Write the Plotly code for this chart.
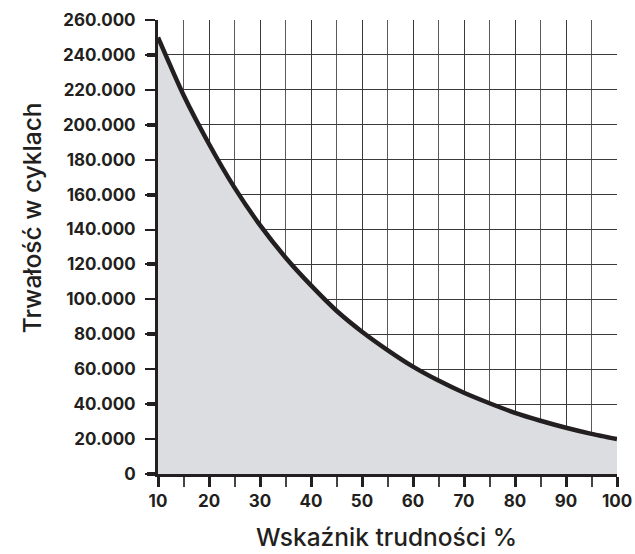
import plotly.graph_objects as go

# Wskaźnik trudności (%) i trwałość (cykle)
difficulty = [10, 15, 20, 25, 30, 35, 40, 45, 50, 55, 60, 65, 70, 75, 80, 85, 90, 95, 100]
cycles = [250000, 217000, 189000, 164000, 142500, 124000, 108000, 93500, 81500, 71000,
          61500, 53500, 46500, 40500, 35000, 30500, 26500, 23000, 20000]

y_major_ticks = [0, 40000, 80000, 120000, 160000, 200000, 240000]

x_title = "Wskaźnik trudności %"
y_title = "Trwałość w cyklach"

INK = "#231f20"
TICK_FONT = dict(family="Inter", size=17, color=INK, weight="bold")
TITLE_FONT = dict(family="Inter", size=24.5, color=INK, weight=500)

fig = go.Figure()

# ── krzywa + wypełnienie ─────────────────────────────
fig.add_trace(go.Scatter(
    x=difficulty, y=cycles,
    mode="lines",
    line=dict(color=INK, width=4.5, shape="spline", smoothing=0.6),
    fill="tozeroy",
    fillcolor="#dcdde0",
    hoverinfo="skip",
))

# niewidoczna seria tylko po to, by narysować grube znaczniki osi Y
fig.add_trace(go.Scatter(
    x=difficulty, y=cycles, yaxis="y2",
    mode="none", hoverinfo="skip",
))

fig.update_layout(
    width=635, height=554,
    margin=dict(l=158, r=18, t=20, b=80),
    plot_bgcolor="white", paper_bgcolor="white",
    showlegend=False,
    separators=",.",
    xaxis=dict(
        range=[10, 100], tick0=10, dtick=10,
        ticks="outside", ticklen=10, tickwidth=3, tickcolor=INK,
        showline=True, linewidth=3, linecolor=INK,
        showgrid=True, gridcolor="#3a3a3a", gridwidth=1.4,
        zeroline=False, automargin=False,
        tickfont=TICK_FONT,
        ticklabeloverflow="allow",
        minor=dict(dtick=5, tick0=10, ticks="outside", ticklen=10, tickwidth=1.5,
                   tickcolor="#444", showgrid=True, gridcolor="#5a5a5a", gridwidth=1.4),
    ),
    yaxis=dict(
        range=[0, 260000], tick0=0, dtick=20000, tickformat=",d",
        ticks="outside", ticklen=10, tickwidth=1.5, tickcolor=INK,
        showline=True, linewidth=3, linecolor=INK,
        showgrid=True, gridcolor="#3a3a3a", gridwidth=1.4,
        zeroline=False, automargin=False,
        tickfont=TICK_FONT,
        ticklabelstandoff=6,
    ),
    yaxis2=dict(
        overlaying="y", side="left", range=[0, 260000],
        tickvals=y_major_ticks, ticks="outside", ticklen=10, tickwidth=3.5, tickcolor=INK,
        showticklabels=False, showgrid=False, showline=False, zeroline=False,
        automargin=False,
    ),
)

fig.add_annotation(
    text=x_title, xref="paper", yref="paper", x=0.497, y=-0.139,
    xanchor="center", yanchor="middle", showarrow=False, font=TITLE_FONT,
)
fig.add_annotation(
    text=y_title, xref="paper", yref="paper", x=-0.274, y=0.564,
    xanchor="center", yanchor="middle", textangle=-90, showarrow=False, font=TITLE_FONT,
)

# bez domyślnego marginesu <body>, żeby figura wypełniła okno 635x554
fig.write_html(
    "out.html",
    config={"displayModeBar": False},
    post_script="document.body.style.margin = '0';",
)
